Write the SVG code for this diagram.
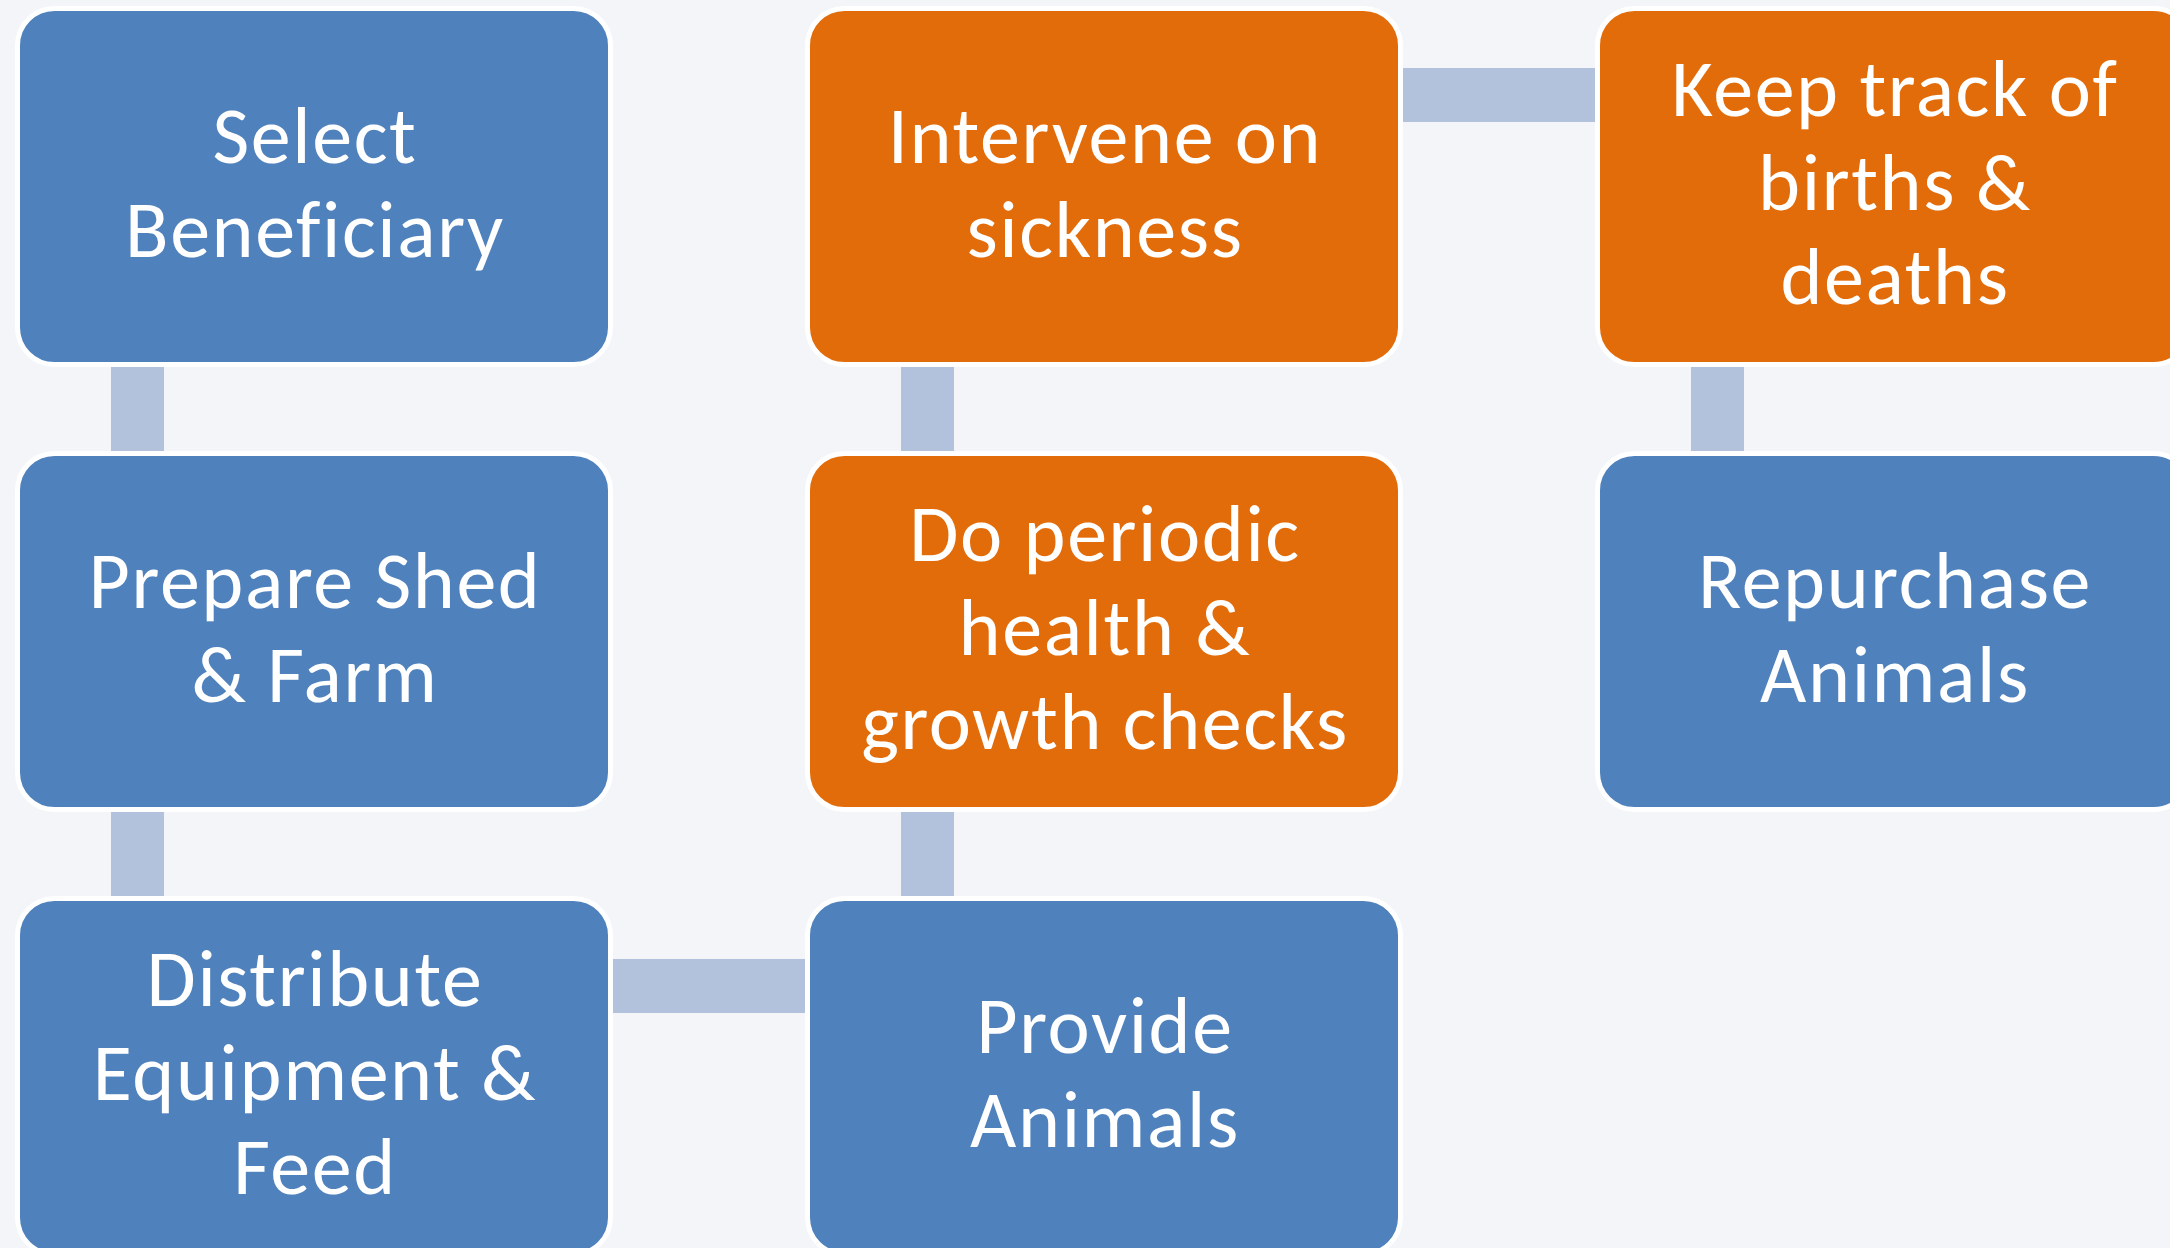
<svg xmlns="http://www.w3.org/2000/svg" width="2170" height="1248" viewBox="0 0 2170 1248">
<style>
.bg{fill:#F3F5F9}
.conn{fill:#B2C2DC}
.blue{fill:#4F81BD;stroke:#FFFFFF;stroke-width:5}
.orange{fill:#E36C0A;stroke:#FFFFFF;stroke-width:5}
.lbl{font-family:Carlito,Lato,"Open Sans",sans-serif;font-size:80px;letter-spacing:1.6px;fill:#FFFFFF;text-anchor:middle}
</style>
<rect class="bg" x="0" y="0" width="2170" height="1248"/>
<g id="connectors">
<rect class="conn" x="111" y="360" width="53" height="98"/>
<rect class="conn" x="111" y="805" width="53" height="98"/>
<rect class="conn" x="606" y="959" width="206" height="54"/>
<rect class="conn" x="901" y="805" width="53" height="98"/>
<rect class="conn" x="901" y="360" width="53" height="98"/>
<rect class="conn" x="1396" y="68" width="206" height="54"/>
<rect class="conn" x="1691" y="360" width="53" height="98"/>
</g>
<g id="n1">
<rect class="blue" x="17.5" y="8.5" width="593" height="356" rx="37"/>
<text class="lbl" x="315" y="163">Select</text>
<text class="lbl" x="315" y="257">Beneficiary</text>
</g>
<g id="n2">
<rect class="blue" x="17.5" y="453.5" width="593" height="356" rx="37"/>
<text class="lbl" x="315" y="608">Prepare Shed</text>
<text class="lbl" x="315" y="702">&amp; Farm</text>
</g>
<g id="n3">
<rect class="blue" x="17.5" y="898.5" width="593" height="356" rx="37"/>
<text class="lbl" x="315" y="1006">Distribute</text>
<text class="lbl" x="315" y="1100">Equipment &amp;</text>
<text class="lbl" x="315" y="1194">Feed</text>
</g>
<g id="n4">
<rect class="blue" x="807.5" y="898.5" width="593" height="356" rx="37"/>
<text class="lbl" x="1105" y="1053">Provide</text>
<text class="lbl" x="1105" y="1147">Animals</text>
</g>
<g id="n5">
<rect class="orange" x="807.5" y="453.5" width="593" height="356" rx="37"/>
<text class="lbl" x="1105" y="561">Do periodic</text>
<text class="lbl" x="1105" y="655">health &amp;</text>
<text class="lbl" x="1105" y="749">growth checks</text>
</g>
<g id="n6">
<rect class="orange" x="807.5" y="8.5" width="593" height="356" rx="37"/>
<text class="lbl" x="1105" y="163">Intervene on</text>
<text class="lbl" x="1105" y="257">sickness</text>
</g>
<g id="n7">
<rect class="orange" x="1597.5" y="8.5" width="593" height="356" rx="37"/>
<text class="lbl" x="1895" y="116">Keep track of</text>
<text class="lbl" x="1895" y="210">births &amp;</text>
<text class="lbl" x="1895" y="304">deaths</text>
</g>
<g id="n8">
<rect class="blue" x="1597.5" y="453.5" width="593" height="356" rx="37"/>
<text class="lbl" x="1895" y="608">Repurchase</text>
<text class="lbl" x="1895" y="702">Animals</text>
</g>
</svg>
